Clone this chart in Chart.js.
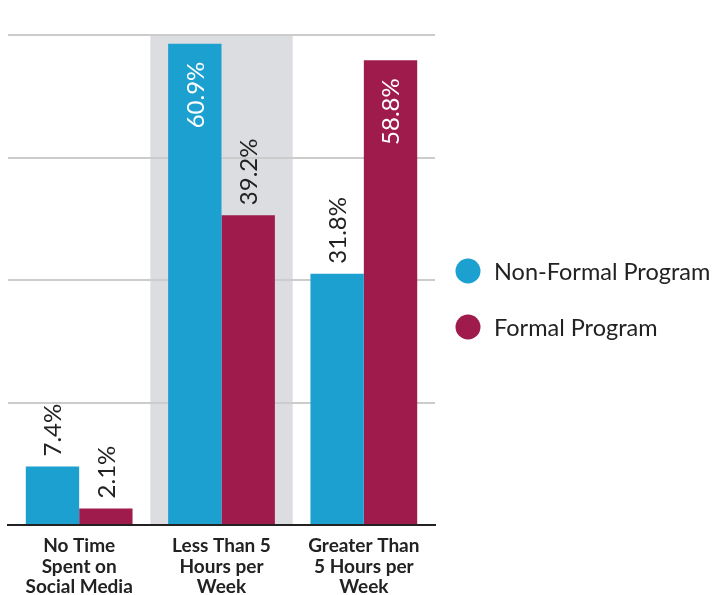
<!DOCTYPE html>
<html>
<head>
<meta charset="utf-8">
<script src="https://cdn.jsdelivr.net/npm/chart.js@4/dist/chart.umd.min.js"></script>
<style>
  html, body { margin: 0; padding: 0; background: #ffffff; }
  #wrap { width: 716px; height: 595px; }
</style>
</head>
<body>
<div id="wrap"><canvas id="chart" width="716" height="595"></canvas></div>
<script>
// Time spent on social media, share of respondents by program type (%)
const categories = [
  ['No Time', 'Spent on', 'Social Media'],
  ['Less Than 5', 'Hours per', 'Week'],
  ['Greater Than', '5 Hours per', 'Week']
];
const seriesNames = ['Non-Formal Program', 'Formal Program'];
const nonFormalValues = [7.4, 60.9, 31.8];
const formalValues = [2.1, 39.2, 58.8];
const highlightedCategory = 1;

const BLUE = '#1ca0d0';
const MAROON = '#9e1b4c';
const TEXT = '#222222';
const FONT = 'Lato, "Open Sans", sans-serif';

// Grey band behind the highlighted category
const highlightBand = {
  id: 'highlightBand',
  beforeDraw(chart) {
    const { ctx, chartArea, scales } = chart;
    const x = scales.x;
    const step = x.getPixelForValue(1) - x.getPixelForValue(0);
    const cx = x.getPixelForValue(highlightedCategory);
    ctx.save();
    ctx.fillStyle = '#dcdde0';
    ctx.fillRect(cx - step / 2, chartArea.top, step, chartArea.bottom - chartArea.top);
    ctx.restore();
  }
};

// Rotated value labels: above the bar when they fit, otherwise inside its top
const valueLabels = {
  id: 'valueLabels',
  afterDatasetsDraw(chart) {
    const { ctx, chartArea } = chart;
    ctx.save();
    ctx.font = '24px ' + FONT;
    ctx.textBaseline = 'middle';
    chart.data.datasets.forEach((ds, di) => {
      chart.getDatasetMeta(di).data.forEach((bar, i) => {
        const text = ds.data[i].toFixed(1) + '%';
        const w = ctx.measureText(text).width;
        const gapOut = 10, gapIn = 18;
        const fitsAbove = bar.y - gapOut - w >= chartArea.top - 20;
        ctx.save();
        if (fitsAbove) {
          ctx.translate(bar.x, bar.y - gapOut);
          ctx.rotate(-Math.PI / 2);
          ctx.textAlign = 'left';
          ctx.fillStyle = TEXT;
        } else {
          ctx.translate(bar.x, bar.y + gapIn);
          ctx.rotate(-Math.PI / 2);
          ctx.textAlign = 'right';
          ctx.fillStyle = '#ffffff';
        }
        ctx.fillText(text, 0, 1);
        ctx.restore();
      });
    });
    ctx.restore();
  }
};

// Legend with round markers to the right of the plot
const sideLegend = {
  id: 'sideLegend',
  afterDraw(chart) {
    const { ctx, chartArea } = chart;
    const x0 = chartArea.right + 33;
    const yMid = 299;
    const rowGap = 56;
    ctx.save();
    ctx.font = '23.5px ' + FONT;
    ctx.textBaseline = 'middle';
    ctx.textAlign = 'left';
    chart.data.datasets.forEach((ds, i) => {
      const y = yMid + (i - (chart.data.datasets.length - 1) / 2) * rowGap;
      ctx.beginPath();
      ctx.arc(x0, y, 12.5, 0, Math.PI * 2);
      ctx.fillStyle = ds.backgroundColor;
      ctx.fill();
      ctx.fillStyle = TEXT;
      ctx.fillText(ds.label, x0 + 26, y + 1);
    });
    ctx.restore();
  }
};

new Chart(document.getElementById('chart'), {
  type: 'bar',
  data: {
    labels: categories,
    datasets: [
      { label: seriesNames[0], data: nonFormalValues, backgroundColor: BLUE },
      { label: seriesNames[1], data: formalValues, backgroundColor: MAROON }
    ]
  },
  options: {
    responsive: false,
    animation: false,
    devicePixelRatio: 1,
    layout: { padding: { left: 8, right: 281, top: 35, bottom: 0 } },
    datasets: { bar: { categoryPercentage: 0.75, barPercentage: 1.0, borderWidth: 0 } },
    plugins: { legend: { display: false }, tooltip: { enabled: false } },
    scales: {
      x: {
        grid: { display: false, drawTicks: false },
        border: { display: true, color: '#222222', width: 2 },
        afterFit(scale) { scale.height = 70; },
        ticks: {
          color: TEXT,
          padding: 11,
          maxRotation: 0,
          autoSkip: false,
          font: { family: FONT, size: 19, weight: 'bold', lineHeight: 1.08 }
        }
      },
      y: {
        min: 0,
        max: 62,
        ticks: { display: false, stepSize: 15.5 },
        grid: { color: '#cccccc', lineWidth: 2, drawTicks: false },
        border: { display: false }
      }
    }
  },
  plugins: [highlightBand, valueLabels, sideLegend]
});
</script>
</body>
</html>
